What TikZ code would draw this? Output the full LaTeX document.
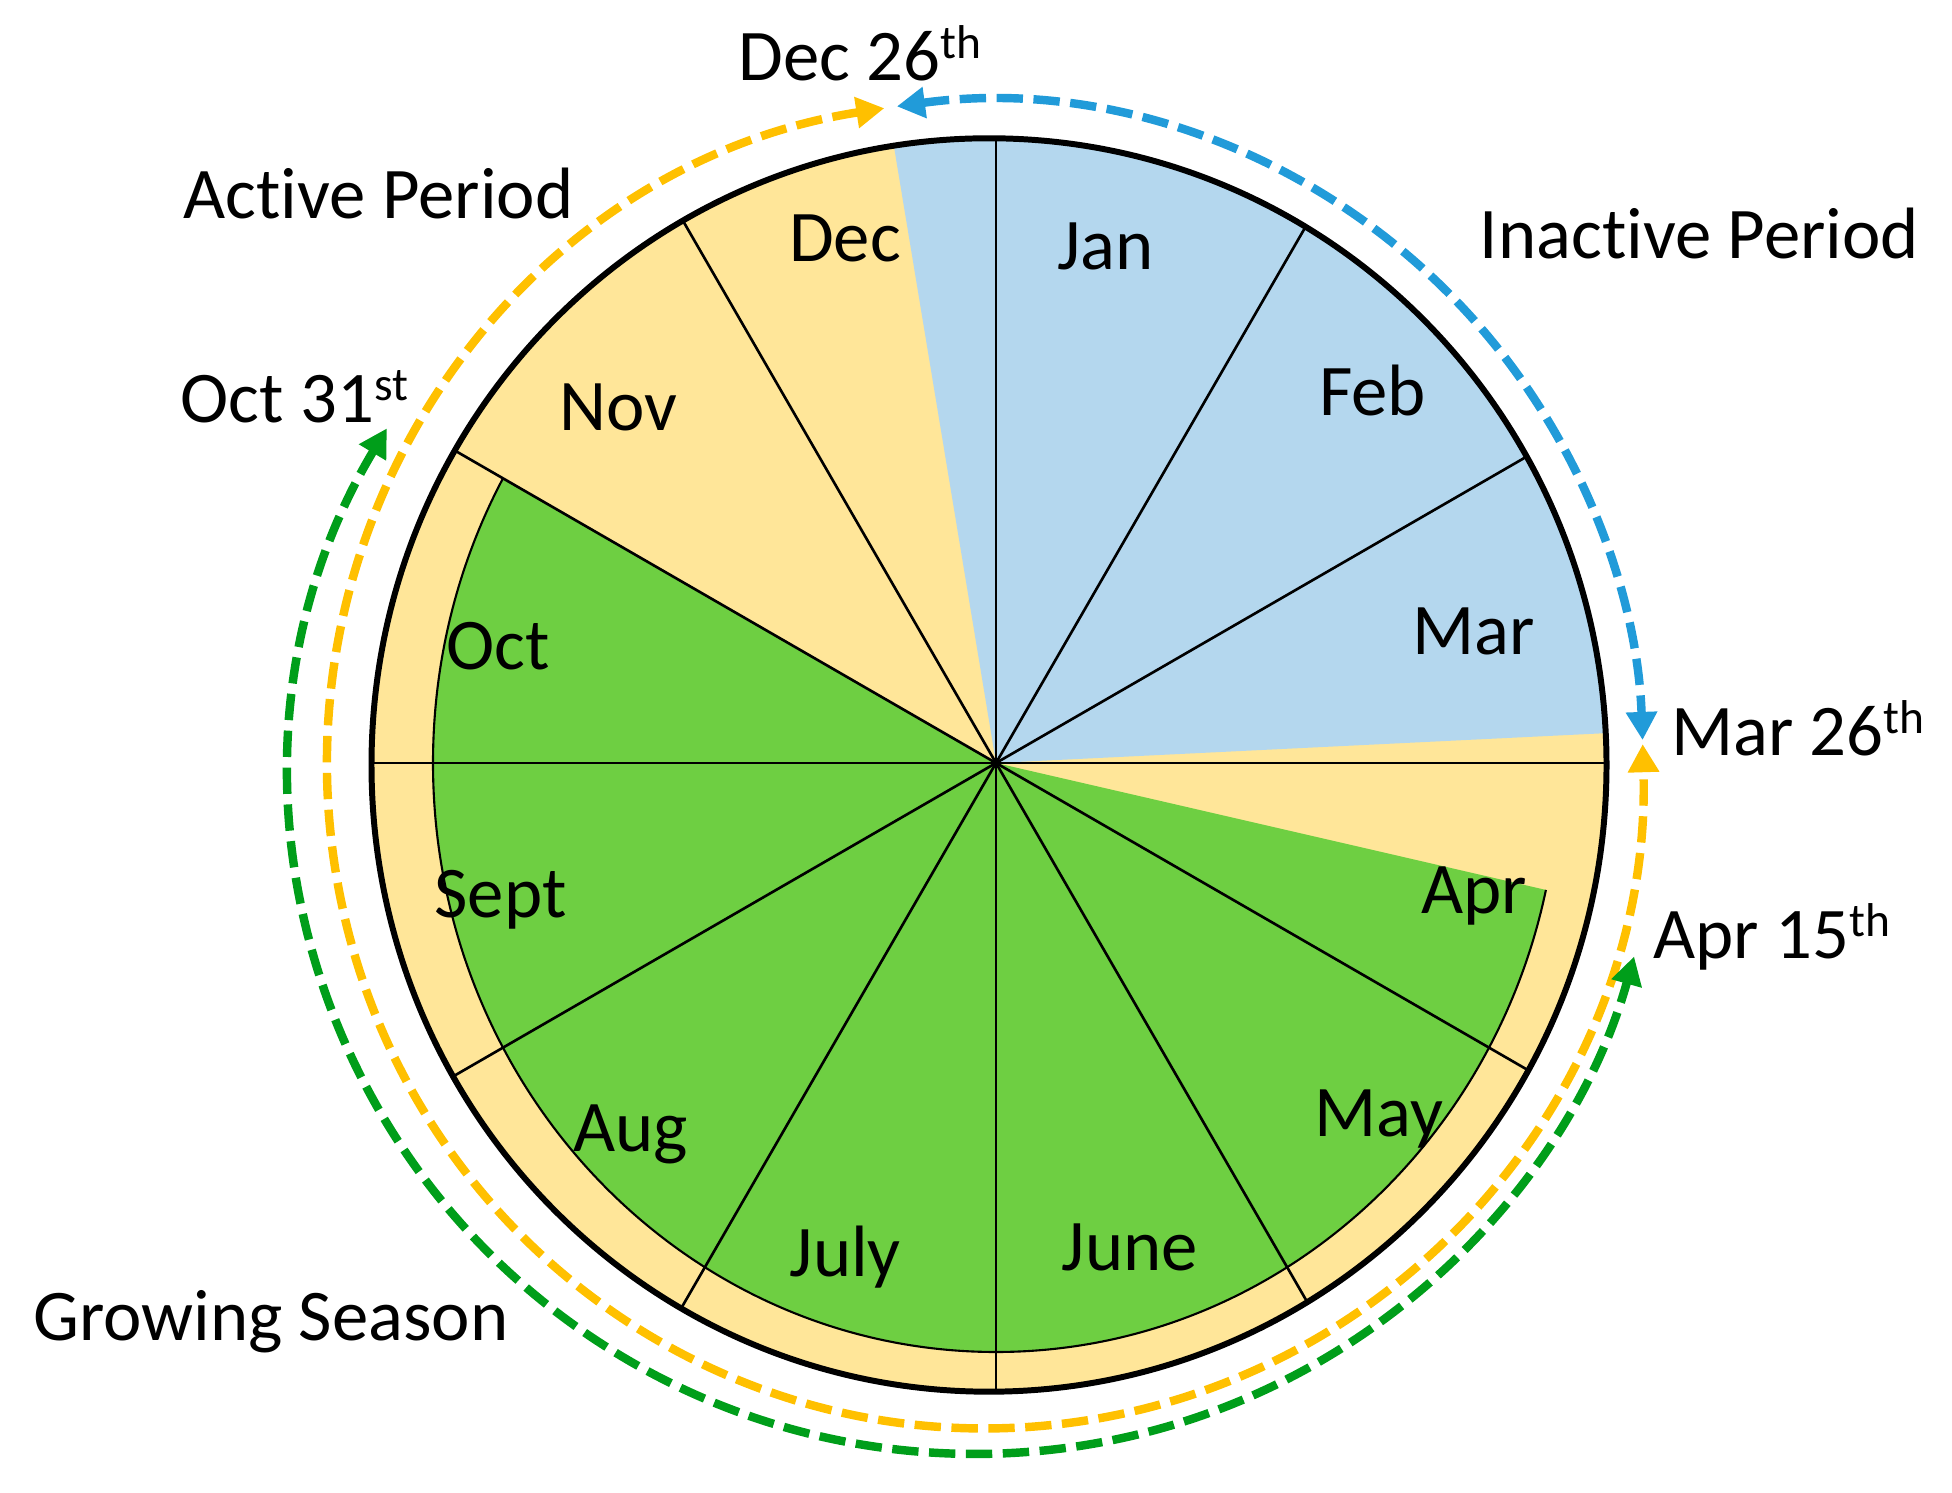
\documentclass[tikz,border=0pt]{standalone}
\usepackage{fontspec}
\setmainfont{Carlito}[Ligatures={NoCommon}]
\usetikzlibrary{arrows.meta}
\definecolor{pieyellow}{HTML}{FFE699}
\definecolor{pieblue}{HTML}{B4D7EE}
\definecolor{piegreen}{HTML}{6ECF42}
\definecolor{dashyellow}{HTML}{FFC000}
\definecolor{dashblue}{HTML}{219BD9}
\definecolor{dashgreen}{HTML}{009E1A}
\newcommand\mysup[1]{\raisebox{6.5pt}{\fontsize{13.5}{13.5}\selectfont #1}}
\begin{document}
\begin{tikzpicture}[
  lbl/.style={font=\fontsize{20.7}{24}\selectfont, anchor=base, inner sep=0pt},
  radial/.style={line width=0.75pt, black},
  dasharc/.style={line width=2.4pt, dash pattern=on 7.5pt off 3pt,
     {Triangle[length=8pt,width=8.5pt]}-{Triangle[length=8pt,width=8.5pt]}},
  outer/.style={x radius=6.175cm, y radius=6.267cm}
]
\useasboundingbox (0,0) rectangle (19.52,14.93);
\coordinate (C) at (9.96,7.30);
\coordinate (O) at (9.89,7.28);
\coordinate (D1) at (9.85,7.286);
\coordinate (D2) at (9.75,7.18);

% yellow base disk
\fill[pieyellow] (O) ellipse[outer];
% blue inactive wedge
\begin{scope}
  \clip (O) ellipse[outer];
  \begin{scope}[shift={(C)}]
    \fill[pieblue] (0,0) -- (2.8:12) -- (50:12) -- (99.4:12) -- cycle;
  \end{scope}
\end{scope}
% green growing season sector
\begin{scope}[shift={(C)}]
  \clip (0,0) -- (150:12) -- (180:12) -- (225:12) -- (270:12) -- (315:12) -- (347:12) -- cycle;
  \fill[piegreen] (0,0) ellipse[x radius=5.63cm, y radius=5.89cm];
  \draw[line width=0.6pt] (0,0) ellipse[x radius=5.63cm, y radius=5.89cm];
\end{scope}
% radial month lines
\begin{scope}
  \clip (O) ellipse[outer];
  \foreach \a in {0,30,...,330} \draw[radial] (C) -- ++(\a:8);
\end{scope}
% outer circle
\draw[line width=1.7pt] (O) ellipse[outer];

% dashed period arcs
\draw[dasharc, dashblue] (D1) ++(97.7:6.58 and 6.64)
  arc[start angle=97.7, end angle=2.1, x radius=6.58cm, y radius=6.64cm];
\draw[dasharc, dashyellow] (D1) ++(98.8:6.58 and 6.64)
  arc[start angle=98.8, end angle=361.75, x radius=6.58cm, y radius=6.64cm];
\draw[dasharc, dashgreen] (D2) ++(149.3:6.84 and 6.79)
  arc[start angle=149.3, end angle=344.5, x radius=6.84cm, y radius=6.79cm];

% outside labels
\node[lbl] (dec26) at (8.60,14.12) {Dec 26\mysup{th}};
\node[lbl] (active) at (3.785,12.74) {Active Period};
\node[lbl] (inactive) at (16.994,12.34) {Inactive Period};
\node[lbl] (oct31) at (2.944,10.70) {Oct 31\mysup{st}};
\node[lbl] (mar26) at (17.977,7.37) {Mar 26\mysup{th}};
\node[lbl] (apr15) at (17.716,5.34) {Apr 15\mysup{th}};
\node[lbl] (growing) at (2.708,1.52) {Growing Season};

% month labels
\node[lbl] (mdec) at (8.45,12.31) {Dec};
\node[lbl] (mjan) at (11.055,12.23) {Jan};
\node[lbl] (mfeb) at (13.726,10.77) {Feb};
\node[lbl] (mmar) at (14.733,8.38) {Mar};
\node[lbl] (mnov) at (6.187,10.62) {Nov};
\node[lbl] (moct) at (4.98,8.23) {Oct};
\node[lbl] (msep) at (5.005,5.755) {Sept};
\node[lbl] (mapr) at (14.74,5.79) {Apr};
\node[lbl] (mmay) at (13.79,3.56) {May};
\node[lbl] (maug) at (6.306,3.414) {Aug};
\node[lbl] (mjul) at (8.453,2.16) {July};
\node[lbl] (mjun) at (11.298,2.22) {June};
\end{tikzpicture}
\end{document}
